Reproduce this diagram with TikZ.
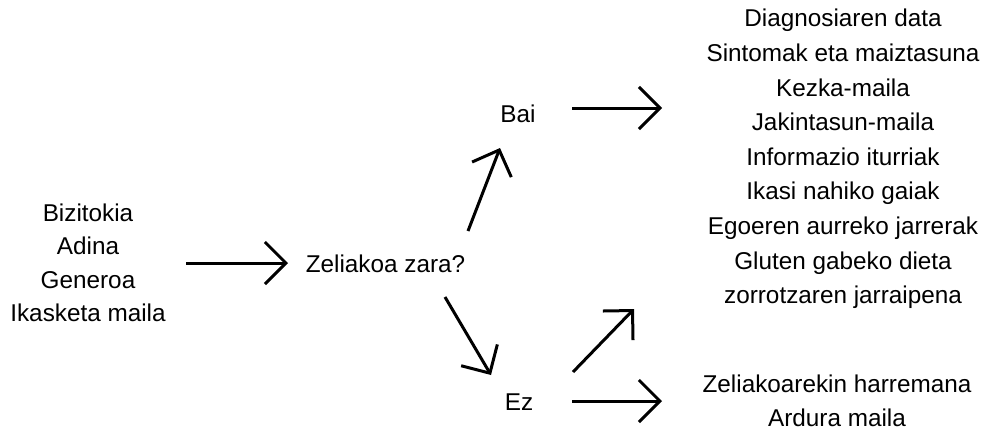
\documentclass[tikz,border=0pt]{standalone}
\usepackage{fontspec}
\setmainfont{Liberation Sans}
\usetikzlibrary{arrows.meta}
\begin{document}
\begin{tikzpicture}[x=1pt,y=-1pt,
  lbl/.style={inner sep=0pt, align=center, font=\fontsize{24.3}{33.5}\selectfont},
  rlbl/.style={inner sep=0pt, align=center, font=\fontsize{24.3}{34.6}\selectfont},
  arr/.style={line width=3pt, -{Straight Barb[length=21pt,width=42pt,line width=3pt]}}]
\useasboundingbox (0,0) rectangle (985,432);
\node[lbl] (left) at (88,263) {Bizitokia\\Adina\\Generoa\\Ikasketa maila};
\node[lbl] (q) at (385.5,264) {Zeliakoa zara?};
\node[lbl] (bai) at (518,114) {Bai};
\node[lbl] (ez) at (519,402) {Ez};
\node[rlbl] (right) at (843,159) {Diagnosiaren data\\Sintomak eta maiztasuna\\Kezka-maila\\Jakintasun-maila\\Informazio iturriak\\Ikasi nahiko gaiak\\Egoeren aurreko jarrerak\\Gluten gabeko dieta\\zorrotzaren jarraipena};
\node[rlbl] (bottom) at (837,401) {Zeliakoarekin harremana\\Ardura maila};
\coordinate (a1s) at (186,263); \coordinate (a1e) at (288,263);
\coordinate (a2s) at (468,231); \coordinate (a2e) at (500,148);
\coordinate (a3s) at (572,108); \coordinate (a3e) at (662,108);
\coordinate (a4s) at (445,297); \coordinate (a4e) at (491,375);
\coordinate (a5s) at (573,372); \coordinate (a5e) at (634,309);
\coordinate (a6s) at (572,401); \coordinate (a6e) at (662,401);
\draw[arr] (a1s) -- (a1e);
\draw[arr] (a2s) -- (a2e);
\draw[arr] (a3s) -- (a3e);
\draw[arr] (a4s) -- (a4e);
\draw[arr] (a5s) -- (a5e);
\draw[arr] (a6s) -- (a6e);
\end{tikzpicture}
\end{document}
